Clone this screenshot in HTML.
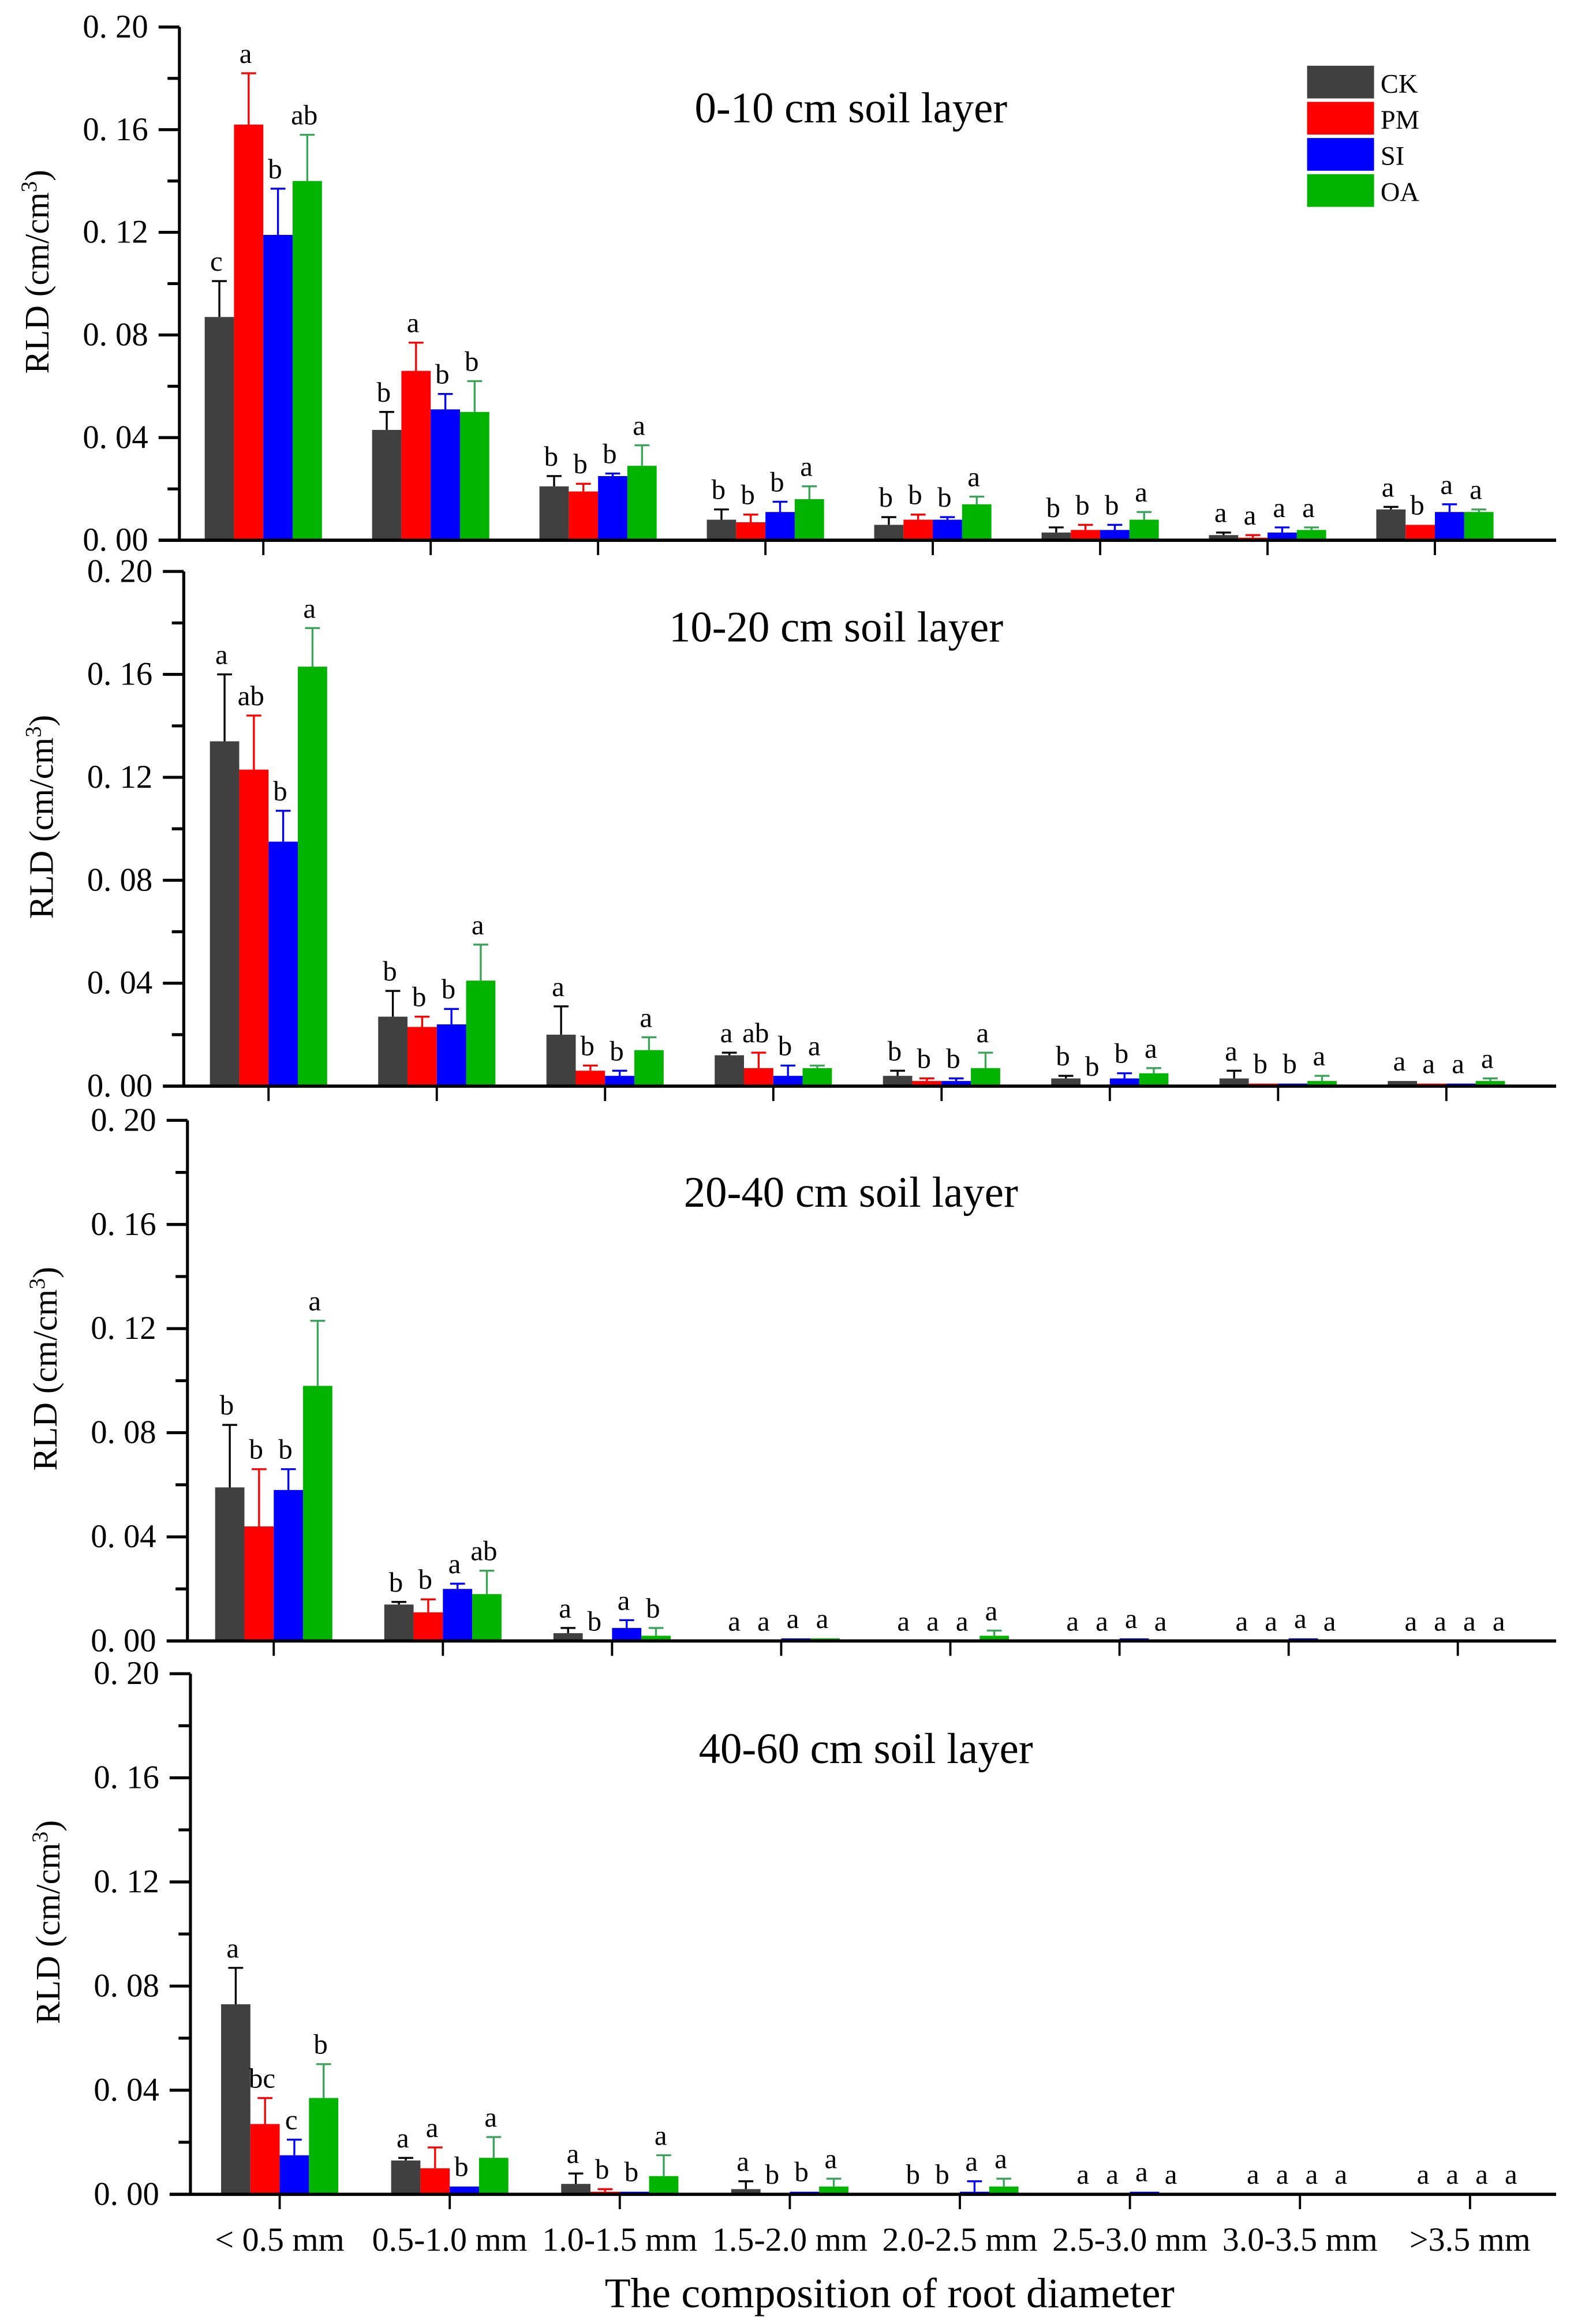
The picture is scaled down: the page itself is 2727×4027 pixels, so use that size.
<!DOCTYPE html>
<html><head><meta charset="utf-8">
<style>
html,body{margin:0;padding:0;background:#fff;}
svg{display:block;}
text{font-family:"Liberation Serif","Noto Serif CJK SC",serif;fill:#000;}
</style></head>
<body>
<svg id="chart" xmlns="http://www.w3.org/2000/svg" width="2727" height="4027" viewBox="0 0 1058 1562"></svg>
<script>
const categories = ["< 0.5 mm","0.5-1.0 mm","1.0-1.5 mm","1.5-2.0 mm","2.0-2.5 mm","2.5-3.0 mm","3.0-3.5 mm",">3.5 mm"];
const seriesNames = ["CK","PM","SI","OA"];
const yTicks = [0,0.04,0.08,0.12,0.16,0.20];
const yTickLabels = ["0. 00","0. 04","0. 08","0. 12","0. 16","0. 20"];
const layerTitles = ["0-10 cm soil layer","10-20 cm soil layer","20-40 cm soil layer","40-60 cm soil layer"];

// layer 0-10
const L1_CK = [0.087,0.043,0.021,0.008,0.006,0.003,0.002,0.012];
const L1_PM = [0.162,0.066,0.019,0.007,0.008,0.004,0.001,0.006];
const L1_SI = [0.119,0.051,0.025,0.011,0.008,0.004,0.003,0.011];
const L1_OA = [0.140,0.050,0.029,0.016,0.014,0.008,0.004,0.011];
const L1_CK_err = [0.014,0.007,0.004,0.004,0.003,0.002,0.001,0.001];
const L1_PM_err = [0.020,0.011,0.003,0.003,0.002,0.002,0.001,0.000];
const L1_SI_err = [0.018,0.006,0.001,0.004,0.001,0.002,0.002,0.003];
const L1_OA_err = [0.018,0.012,0.008,0.005,0.003,0.003,0.001,0.001];
const L1_letters = [["c","a","b","ab"],["b","a","b","b"],["b","b","b","a"],["b","b","b","a"],["b","b","b","a"],["b","b","b","a"],["a","a","a","a"],["a","b","a","a"]];
// layer 10-20
const L2_CK = [0.134,0.027,0.020,0.012,0.004,0.003,0.003,0.002];
const L2_PM = [0.123,0.023,0.006,0.007,0.002,0.000,0.001,0.001];
const L2_SI = [0.095,0.024,0.004,0.004,0.002,0.003,0.001,0.001];
const L2_OA = [0.163,0.041,0.014,0.007,0.007,0.005,0.002,0.002];
const L2_CK_err = [0.026,0.010,0.011,0.001,0.002,0.001,0.003,0.000];
const L2_PM_err = [0.021,0.004,0.002,0.006,0.001,0.000,0.000,0.000];
const L2_SI_err = [0.012,0.006,0.002,0.004,0.001,0.002,0.000,0.000];
const L2_OA_err = [0.015,0.014,0.005,0.001,0.006,0.002,0.002,0.001];
const L2_letters = [["a","ab","b","a"],["b","b","b","a"],["a","b","b","a"],["a","ab","b","a"],["b","b","b","a"],["b","b","b","a"],["a","b","b","a"],["a","a","a","a"]];
// layer 20-40
const L3_CK = [0.059,0.014,0.003,0,0,0,0,0];
const L3_PM = [0.044,0.011,0,0,0,0,0,0];
const L3_SI = [0.058,0.020,0.005,0.001,0,0.001,0.001,0];
const L3_OA = [0.098,0.018,0.002,0.001,0.002,0,0,0];
const L3_CK_err = [0.024,0.001,0.002,0,0,0,0,0];
const L3_PM_err = [0.022,0.005,0,0,0,0,0,0];
const L3_SI_err = [0.008,0.002,0.003,0,0,0,0,0];
const L3_OA_err = [0.025,0.009,0.003,0,0.002,0,0,0];
const L3_letters = [["b","b","b","a"],["b","b","a","ab"],["a","b","a","b"],["a","a","a","a"],["a","a","a","a"],["a","a","a","a"],["a","a","a","a"],["a","a","a","a"]];
// layer 40-60
const L4_CK = [0.073,0.013,0.004,0.002,0,0,0,0];
const L4_PM = [0.027,0.010,0.001,0,0,0,0,0];
const L4_SI = [0.015,0.003,0.001,0.001,0.001,0.001,0,0];
const L4_OA = [0.037,0.014,0.007,0.003,0.003,0,0,0];
const L4_CK_err = [0.014,0.001,0.004,0.003,0,0,0,0];
const L4_PM_err = [0.010,0.008,0.001,0,0,0,0,0];
const L4_SI_err = [0.006,0.000,0,0,0.004,0,0,0];
const L4_OA_err = [0.013,0.008,0.008,0.003,0.003,0,0,0];
const L4_letters = [["a","bc","c","b"],["a","a","b","a"],["a","b","b","a"],["a","b","b","a"],["b","b","a","a"],["a","a","a","a"],["a","a","a","a"],["a","a","a","a"]];

const layers = [
 {vals:[L1_CK,L1_PM,L1_SI,L1_OA],errs:[L1_CK_err,L1_PM_err,L1_SI_err,L1_OA_err],letters:L1_letters},
 {vals:[L2_CK,L2_PM,L2_SI,L2_OA],errs:[L2_CK_err,L2_PM_err,L2_SI_err,L2_OA_err],letters:L2_letters},
 {vals:[L3_CK,L3_PM,L3_SI,L3_OA],errs:[L3_CK_err,L3_PM_err,L3_SI_err,L3_OA_err],letters:L3_letters},
 {vals:[L4_CK,L4_PM,L4_SI,L4_OA],errs:[L4_CK_err,L4_PM_err,L4_SI_err,L4_OA_err],letters:L4_letters}
];
const panels = [
 {axisX:120.6,top:18,base:363,first:177,step:112.5,titleX:572,titleY:82},
 {axisX:123.5,top:384,base:730,first:180.5,step:113.1,titleX:562,titleY:431},
 {axisX:126,top:753,base:1103,first:184,step:113.7,titleX:572,titleY:811},
 {axisX:128,top:1125,base:1475,first:188,step:114.3,titleX:582,titleY:1185}
];
const fills = ["#404040","#ff0000","#0000ff","#00b400"];
const errColors = ["#000000","#ff0000","#0000ff","#3ca35a"];
const NS = "http://www.w3.org/2000/svg";
const svg = document.getElementById("chart");
function mk(tag, attrs, parent){const e=document.createElementNS(NS,tag);for(const k in attrs)e.setAttribute(k,attrs[k]);(parent||svg).appendChild(e);return e;}

const barW = 19.7;
panels.forEach((p,pi)=>{
  const g = mk("g",{});
  
  
  const yScale = v => p.base - (v/0.20)*(p.base-p.top);
  const xCenter = i => p.first + i*p.step;
  const L = layers[pi];
  categories.forEach((c,ci)=>{
    for(let s=0;s<4;s++){
      const v=L.vals[s][ci], e=L.errs[s][ci];
      const x = xCenter(ci) - 2*barW + s*barW;
      const y = yScale(v);
      if(v>0){
        const r = mk("rect",{x:x,y:y,width:barW,height:p.base-y,fill:fills[s]},g);
        
        
      }
      const cx = x+barW/2, ty = yScale(v+e);
      if(v>0 && e>0){
        const eb = mk("path",{d:`M${cx},${y}V${ty}M${cx-5},${ty}H${cx+5}`,stroke:errColors[s],"stroke-width":1.3,fill:"none"},g);
        
        
      }
      const t = mk("text",{x:cx-2,y:ty-7,"font-size":19,"text-anchor":"middle"},g);
      t.textContent = L.letters[ci][s];
      
      
    }
    const tk = mk("line",{x1:xCenter(ci),x2:xCenter(ci),y1:p.base,y2:p.base+10,stroke:"#000","stroke-width":1.5},g);
    
    
  });
  const ya = mk("line",{x1:p.axisX,x2:p.axisX,y1:p.top,y2:p.base,stroke:"#000","stroke-width":2},g);
  
  
  const xa = mk("line",{x1:p.axisX-14,x2:1046,y1:p.base,y2:p.base,stroke:"#000","stroke-width":2.2},g);
  
  
  for(let k=1;k<=10;k++){
    const y=yScale(k*0.02);
    const major = k%2===0;
    const tl = mk("line",{x1:p.axisX-(major?14:8),x2:p.axisX,y1:y,y2:y,stroke:"#000","stroke-width":2},g);
    
    
  }
  yTicks.forEach((v,k)=>{
    const t = mk("text",{x:p.axisX-21,y:yScale(v)+7,"font-size":22,"text-anchor":"end",fill:"#333"},g);
    t.textContent = yTickLabels[k];
    
    
  });
  const my = (p.top+p.base)/2;
  const yt = mk("text",{x:0,y:0,"font-size":23,"text-anchor":"middle",transform:`translate(${p.axisX-88},${my-8}) rotate(-90)`},g);
  yt.innerHTML = 'RLD (cm/cm<tspan baseline-shift="super" font-size="15">3</tspan>)';
  
  
  const tt = mk("text",{x:p.titleX,y:p.titleY,"font-size":29,"text-anchor":"middle"},g);
  tt.textContent = layerTitles[pi];
  
  
});
const p4 = panels[3];
categories.forEach((c,ci)=>{
  const t = mk("text",{x:p4.first+ci*p4.step,y:1513,"font-size":22.5,"text-anchor":"middle"});
  t.textContent = c;
  
  
});
const xt = mk("text",{x:598,y:1551,"font-size":28.5,"text-anchor":"middle"});
xt.textContent = "The composition of root diameter";


const lg = mk("g",{});


seriesNames.forEach((n,i)=>{
  const y = 44 + i*24.3;
  const r = mk("rect",{x:878.6,y:y,width:45,height:22,fill:fills[i]},lg);
  
  
  const t = mk("text",{x:928,y:y+18,"font-size":18},lg);
  t.textContent = n;
  
  
});
</script>
</body></html>
